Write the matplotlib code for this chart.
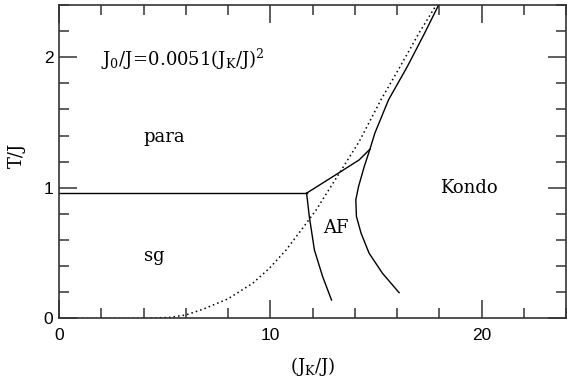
import matplotlib.pyplot as plt
from matplotlib.ticker import MultipleLocator

plt.rcParams['mathtext.fontset'] = 'dejavuserif'

# sg / para boundary (flat)
sg_x = [0, 11.72]
sg_y = [0.959, 0.959]

# para/AF boundary up to the kink, then para/Kondo line to the top
upper_x = [11.72, 13.27, 14.21, 14.72, 14.95, 15.6, 16.49, 17.31, 17.97]
upper_y = [0.959, 1.117, 1.214, 1.296, 1.418, 1.674, 1.929, 2.185, 2.40]

# sg / AF boundary
af_x = [11.72, 11.85, 12.09, 12.48, 12.90]
af_y = [0.959, 0.779, 0.524, 0.32, 0.141]

# AF / Kondo boundary
kondo_x = [14.72, 14.45, 14.18, 14.05, 14.08, 14.30, 14.68, 15.31, 16.10]
kondo_y = [1.296, 1.163, 1.01, 0.907, 0.78, 0.652, 0.499, 0.346, 0.197]

# dotted J0 curve
j0_x = [0, 2, 4, 5.24, 6.0, 6.81, 7.99, 9.17, 9.96, 10.75, 11.53, 12.17,
        13.27, 14.21, 15.24, 16.15, 17.04, 17.86]
j0_y = [0, 0, 0, 0.008, 0.026, 0.07, 0.149, 0.269, 0.384, 0.524, 0.69, 0.83,
        1.112, 1.354, 1.674, 1.929, 2.185, 2.40]

fig = plt.figure(figsize=(5.67, 3.77), dpi=100)
ax = fig.add_axes([59 / 567, 1 - 318.4 / 377, 507 / 567, 313.4 / 377])

for xs, ys in [(sg_x, sg_y), (upper_x, upper_y), (af_x, af_y), (kondo_x, kondo_y)]:
    ax.plot(xs, ys, color='black', lw=1.0)
ax.plot(j0_x, j0_y, color='black', lw=1.1, linestyle=(0, (1, 2)))

ax.set_xlim(0, 24)
ax.set_ylim(0, 2.4)
ax.xaxis.set_major_locator(MultipleLocator(10))
ax.xaxis.set_minor_locator(MultipleLocator(2))
ax.yaxis.set_major_locator(MultipleLocator(1))
ax.yaxis.set_minor_locator(MultipleLocator(0.2))
ax.tick_params(which='both', direction='in', top=True, right=True, width=1.1,
               color='#333333', labelsize=12.5)
ax.tick_params(which='major', length=13)
ax.tick_params(which='minor', length=7)
ax.tick_params(axis='x', pad=7)
ax.tick_params(axis='y', pad=4)
for lab in ax.get_xticklabels() + ax.get_yticklabels():
    lab.set_family('Liberation Sans')
for s in ax.spines.values():
    s.set_linewidth(1.2)
    s.set_color('#333333')

serif = dict(family='DejaVu Serif', fontsize=13)
ax.set_xlabel(r'$\mathrm{(J_K/J)}$', fontsize=13, va='center')
ax.xaxis.set_label_coords(0.5, -0.155)
ax.set_ylabel('T/J', va='center', **serif)
ax.yaxis.set_label_coords(-0.083, 0.52)

ax.text(2.01, 1.936, r'$\mathrm{J_0/J\!=\!0.0051(J_K/J)^2}$', fontsize=13)
ax.text(4.96, 1.354, 'para', ha='center', va='baseline', **serif)
ax.text(4.49, 0.44, 'sg', ha='center', va='baseline', **serif)
ax.text(13.12, 0.652, 'AF', ha='center', va='baseline', **serif)
ax.text(19.39, 0.958, 'Kondo', ha='center', va='baseline', **serif)

fig.savefig('out.png', dpi=100)
